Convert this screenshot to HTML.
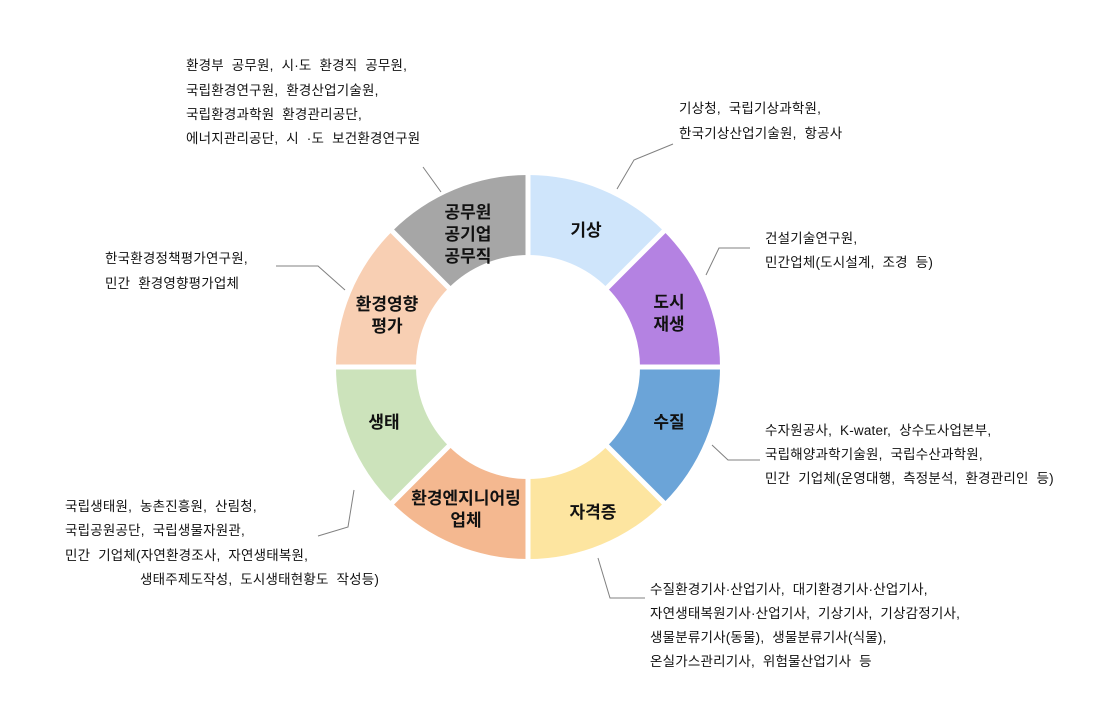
<!DOCTYPE html>
<html><head><meta charset="utf-8"><style>
html,body{margin:0;padding:0;background:#fff;width:1119px;height:719px;overflow:hidden}
svg text{font-family:"Liberation Sans","Noto Sans CJK KR","NanumGothic",sans-serif}
.a{font-size:13.5px;fill:#111;word-spacing:4px;letter-spacing:0.2px}
.s{font-size:17px;fill:#111;font-weight:bold}
</style></head><body>
<svg width="1119" height="719" viewBox="0 0 1119 719" xmlns="http://www.w3.org/2000/svg">
<g>
<path d="M528,175 A192,192 0 0 1 663.8,231.2 L607.2,287.8 A112,112 0 0 0 528,255 Z" fill="#cfe5fb"/>
<path d="M663.8,231.2 A192,192 0 0 1 720,367 L640,367 A112,112 0 0 0 607.2,287.8 Z" fill="#b482e2"/>
<path d="M720,367 A192,192 0 0 1 663.8,502.8 L607.2,446.2 A112,112 0 0 0 640,367 Z" fill="#6ba4d8"/>
<path d="M663.8,502.8 A192,192 0 0 1 528,559 L528,479 A112,112 0 0 0 607.2,446.2 Z" fill="#fde5a0"/>
<path d="M528,559 A192,192 0 0 1 392.2,502.8 L448.8,446.2 A112,112 0 0 0 528,479 Z" fill="#f4b890"/>
<path d="M392.2,502.8 A192,192 0 0 1 336,367 L416,367 A112,112 0 0 0 448.8,446.2 Z" fill="#cce3bb"/>
<path d="M336,367 A192,192 0 0 1 392.2,231.2 L448.8,287.8 A112,112 0 0 0 416,367 Z" fill="#f8cfb3"/>
<path d="M392.2,231.2 A192,192 0 0 1 528,175 L528,255 A112,112 0 0 0 448.8,287.8 Z" fill="#a6a6a6"/>
<g stroke="#fff" stroke-width="5">
<line x1="528" y1="170" x2="528" y2="260"/><line x1="528" y1="474" x2="528" y2="564"/>
<line x1="331" y1="367" x2="421" y2="367"/><line x1="635" y1="367" x2="725" y2="367"/>
<line x1="388.7" y1="227.7" x2="452.3" y2="291.3"/><line x1="667.3" y1="227.7" x2="603.7" y2="291.3"/>
<line x1="388.7" y1="506.3" x2="452.3" y2="442.7"/><line x1="667.3" y1="506.3" x2="603.7" y2="442.7"/>
</g>
</g>
<g class="s" text-anchor="middle">
<text x="586" y="236">기상</text>
<text x="669" y="308">도시</text><text x="669" y="330">재생</text>
<text x="669" y="428">수질</text>
<text x="593" y="518">자격증</text>
<text x="466" y="504">환경엔지니어링</text><text x="466" y="526">업체</text>
<text x="384" y="428">생태</text>
<text x="387" y="310">환경영향</text><text x="387" y="332">평가</text>
<text x="468" y="218">공무원</text><text x="468" y="240">공기업</text><text x="468" y="262">공무직</text>
</g>
<g stroke="#808080" stroke-width="1" fill="none">
<polyline points="423,167 441,192"/>
<polyline points="617,189 634,160 673,144"/>
<polyline points="706,275 719,248 750,248"/>
<polyline points="276,266 318,266 345,290"/>
<polyline points="712,445 728,460 760,460"/>
<polyline points="354,490 348,527 318,536"/>
<polyline points="598,558 610,598 645,598"/>
</g>
<g class="a">
<text x="186" y="70">환경부 공무원, 시·도 환경직 공무원,</text>
<text x="186" y="95">국립환경연구원, 환경산업기술원,</text>
<text x="186" y="119">국립환경과학원 환경관리공단,</text>
<text x="186" y="143">에너지관리공단, 시 ·도 보건환경연구원</text>
<text x="679" y="113">기상청, 국립기상과학원,</text>
<text x="679" y="138">한국기상산업기술원, 항공사</text>
<text x="765" y="243">건설기술연구원,</text>
<text x="765" y="267">민간업체(도시설계, 조경 등)</text>
<text x="105" y="263">한국환경정책평가연구원,</text>
<text x="105" y="288">민간 환경영향평가업체</text>
<text x="765" y="435">수자원공사, K-water, 상수도사업본부,</text>
<text x="765" y="459">국립해양과학기술원, 국립수산과학원,</text>
<text x="765" y="483">민간 기업체(운영대행, 측정분석, 환경관리인 등)</text>
<text x="65" y="511">국립생태원, 농촌진흥원, 산림청,</text>
<text x="65" y="535">국립공원공단, 국립생물자원관,</text>
<text x="65" y="560">민간 기업체(자연환경조사, 자연생태복원,</text>
<text x="140" y="584">생태주제도작성, 도시생태현황도 작성등)</text>
<text x="650" y="594">수질환경기사·산업기사, 대기환경기사·산업기사,</text>
<text x="650" y="618">자연생태복원기사·산업기사, 기상기사, 기상감정기사,</text>
<text x="650" y="642">생물분류기사(동물), 생물분류기사(식물),</text>
<text x="650" y="666">온실가스관리기사, 위험물산업기사 등</text>
</g>
</svg>
</body></html>
